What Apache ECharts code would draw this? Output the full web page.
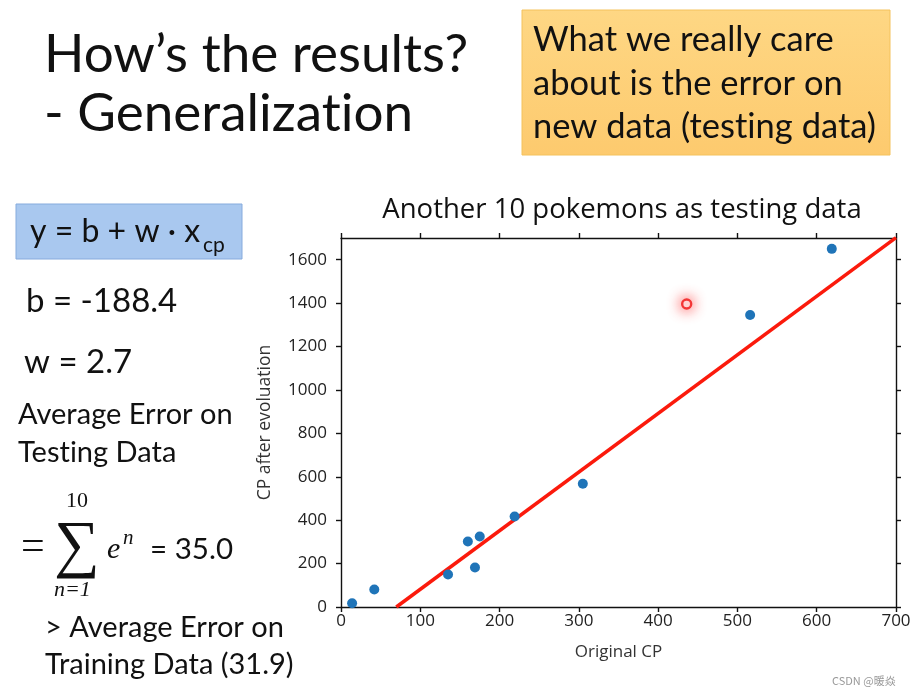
<!DOCTYPE html>
<html>
<head>
<meta charset="utf-8">
<script src="https://cdn.jsdelivr.net/npm/echarts@6/dist/echarts.min.js"></script>
<style>html,body{margin:0;padding:0;background:#fff;}#c{width:915px;height:696px;}</style>
</head>
<body>
<div id="c"></div>
<script>
// ---- data ----
const testX = [14, 42, 135, 160, 169, 175, 219, 305, 516, 619];
const testY = [17, 81, 150, 302, 182, 325, 417, 568, 1345, 1650];
const highlightX = [436];
const highlightY = [1396];
const b = -188.4;
const w = 2.7;
const xTicks = [0, 100, 200, 300, 400, 500, 600, 700];
const yTicks = [0, 200, 400, 600, 800, 1000, 1200, 1400, 1600];
const xMax = 700, yMax = 1700;

// avoid optional ligatures (e.g. "ti") in the slide font
(function () {
  const P = CanvasRenderingContext2D.prototype;
  const of = P.fillText;
  P.fillText = function () {
    try { this.letterSpacing = '0.01px'; this.textRendering = 'optimizeSpeed'; } catch (e) {}
    return of.apply(this, arguments);
  };
})();

const chart = echarts.init(document.getElementById('c'), null, {renderer: 'canvas'});
const SANS = 'Lato, "Noto Sans", sans-serif';
const PLOTF = '"Open Sans", "Noto Sans", sans-serif';
const MATH = '"Liberation Serif", "DejaVu Serif", serif';

const x0 = -b / w;
const lineData = [[x0, b + w * x0], [xMax, b + w * xMax]];

function txt(text, x, y, size, opts) {
  return {
    type: 'text', z: 10,
    style: Object.assign({text: text, x: x, y: y, font: size + 'px ' + SANS, fill: '#111', verticalAlign: 'middle', align: 'left'}, opts || {})
  };
}

const axisLineStyle = {show: true, onZero: false, lineStyle: {color: '#111', width: 1.4}};
const tickStyle = {show: true, length: 5, lineStyle: {color: '#111', width: 1.4}};
const fmt = v => String(v);

chart.setOption({
  backgroundColor: '#fff',
  animation: false,
  title: {
    text: 'Another 10 pokemons as testing data',
    left: 617, top: 191, textAlign: 'center',
    textStyle: {fontFamily: PLOTF, fontSize: 27.5, fontWeight: 'normal', color: '#111'}
  },
  grid: {left: 341, right: 19, top: 238, bottom: 89, containLabel: false},
  xAxis: [
    {type: 'value', min: 0, max: xMax, interval: 100, position: 'bottom',
     name: 'Original CP', nameLocation: 'middle', nameGap: 37,
     nameTextStyle: {fontFamily: PLOTF, fontSize: 17, color: '#333'},
     axisLine: axisLineStyle,
     axisTick: Object.assign({customValues: xTicks}, tickStyle),
     axisLabel: {customValues: xTicks, formatter: fmt, fontFamily: PLOTF, fontSize: 17, color: '#222', margin: 6},
     splitLine: {show: false}},
    {type: 'value', min: 0, max: xMax, interval: 100, position: 'top',
     axisLine: axisLineStyle,
     axisTick: Object.assign({customValues: xTicks}, tickStyle),
     axisLabel: {show: false}, splitLine: {show: false}}
  ],
  yAxis: [
    {type: 'value', min: 0, max: yMax, interval: 200, position: 'left',
     name: 'CP after evoluation', nameLocation: 'middle', nameGap: 67, nameRotate: 90,
     nameTextStyle: {fontFamily: PLOTF, fontSize: 17.5, color: '#333'},
     axisLine: axisLineStyle,
     axisTick: Object.assign({customValues: yTicks}, tickStyle),
     axisLabel: {customValues: yTicks, formatter: fmt, fontFamily: PLOTF, fontSize: 17, color: '#222', margin: 14},
     splitLine: {show: false}},
    {type: 'value', min: 0, max: yMax, interval: 200, position: 'right',
     axisLine: axisLineStyle,
     axisTick: Object.assign({customValues: yTicks}, tickStyle),
     axisLabel: {show: false}, splitLine: {show: false}}
  ],
  series: [
    {type: 'line', data: lineData, symbol: 'none', lineStyle: {color: '#fb1a0c', width: 3.5}, z: 3},
    {type: 'scatter', data: testX.map((x, i) => [x, testY[i]]), symbolSize: 10,
     itemStyle: {color: '#1f74b8', opacity: 1}, z: 4},
    {type: 'scatter', data: highlightX.map((x, i) => [x, highlightY[i]]), symbolSize: 9,
     itemStyle: {color: '#fff', borderColor: '#f01010', borderWidth: 2.4,
                 shadowBlur: 14, shadowColor: 'rgba(255,0,0,1)'}, z: 5}
  ],
  graphic: [
    txt('How\u2019s the results?', 44, 55, 53),
    txt('- Generalization', 44, 114, 53),
    {type: 'rect', z: 5, shape: {x: 522, y: 10, width: 368, height: 145},
     style: {fill: new echarts.graphic.LinearGradient(0, 0, 0, 1, [{offset: 0, color: '#fed784'}, {offset: 1, color: '#fdca6e'}]),
             stroke: '#f4c25c', lineWidth: 1}},
    txt('What we really care', 533, 40, 34.5),
    txt('about is the error on', 533, 84, 34.5),
    txt('new data (testing data)', 533, 127, 34.5),
    {type: 'rect', z: 5, shape: {x: 16, y: 204, width: 226, height: 55},
     style: {fill: '#a9c8ef', stroke: '#86abdd', lineWidth: 1}},
    txt('y = b + w \u00b7 x', 30, 232, 32),
    txt('cp', 203, 245, 21),
    txt('b = -188.4', 26, 301, 33),
    txt('w = 2.7', 24, 362, 33),
    txt('Average Error on', 18, 415, 29),
    txt('Testing Data', 18, 453, 29),
    txt('=', 21, 548, 42, {font: '42px ' + MATH}),
    txt('\u2211', 54, 548, 64, {font: '64px ' + MATH}),
    txt('10', 66, 501, 22, {font: '22px ' + MATH}),
    txt('n=1', 54, 590, 22, {font: 'italic 22px ' + MATH}),
    txt('e', 107, 550, 30, {font: 'italic 30px ' + MATH}),
    txt('n', 123, 538, 21, {font: 'italic 21px ' + MATH}),
    txt('= 35.0', 150, 549, 29.5),
    txt('> Average Error on', 45, 628, 29),
    txt('Training Data (31.9)', 45, 665, 29),
    txt('CSDN @\u6696\u7131', 832, 681, 11, {font: '11px "Noto Sans CJK SC", sans-serif', fill: '#999'})
  ]
});
</script>
</body>
</html>
